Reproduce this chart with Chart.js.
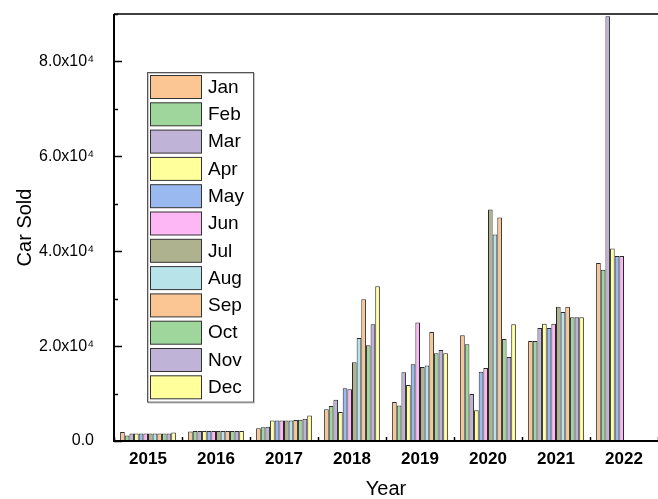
<!DOCTYPE html>
<html>
<head>
<meta charset="utf-8">
<script src="https://cdn.jsdelivr.net/npm/chart.js@4.4.1/dist/chart.umd.min.js"></script>
<style>
    html, body { margin: 0; padding: 0; background: #fff; }
    #wrap { width: 658px; height: 499px; }
</style>
</head>
<body>
<div id="wrap"><canvas id="carChart" width="658" height="499"></canvas></div>
<script>
// Categories and series
const years = ['2015', '2016', '2017', '2018', '2019', '2020', '2021', '2022'];
const months = ['Jan', 'Feb', 'Mar', 'Apr', 'May', 'Jun', 'Jul', 'Aug', 'Sep', 'Oct', 'Nov', 'Dec'];

const jan = [1900, 2000, 2700, 6700, 8200, 22300, 21100, 37500];
const feb = [1150, 2100, 2900, 7400, 7500, 20400, 21100, 36100];
const mar = [1600, 2100, 3000, 8700, 14500, 9900, 23800, 89500];
const apr = [1600, 2100, 4300, 6100, 11800, 6500, 24700, 40600];
const may = [1600, 2100, 4300, 11100, 16200, 14600, 23800, 39000];
const jun = [1600, 2100, 4300, 10900, 25000, 15400, 24700, 39000];
const jul = [1600, 2100, 4300, 16600, 15600, 48800, 28300, null];
const aug = [1600, 2100, 4300, 21700, 15900, 43500, 27200, null];
const sep = [1600, 2100, 4400, 29900, 23000, 47100, 28300, null];
const oct = [1600, 2100, 4500, 20200, 18500, 21500, 26100, null];
const nov = [1600, 2100, 4700, 24600, 19200, 17700, 26100, null];
const dec = [1800, 2100, 5400, 32600, 18500, 24600, 26100, null];

const yTickValues = [0, 20000, 40000, 60000, 80000];

const series = [jan, feb, mar, apr, may, jun, jul, aug, sep, oct, nov, dec];
const colors = ['#FBC594', '#9ED69C', '#BFB3D8', '#FFFF9C', '#9BB9F1', '#FDB7F5',
                '#AEB28F', '#B7E3E9', '#FBC594', '#9ED69C', '#BFB3D8', '#FFFF9C'];

const FONT = "'Liberation Sans', Arial, sans-serif";

// Format 20000 -> "2.0x10⁴"
function sciLabel(v) {
    if (v === 0) return '0.0';
    return (v / 10000).toFixed(1) + 'x10\u2074';
}

// Frame lines, inward tick marks and the boxed legend inside the plot
const framePlugin = {
    id: 'frame',
    afterDraw(chart) {
        const ctx = chart.ctx;
        const area = chart.chartArea;
        const xs = chart.scales.x;
        const ys = chart.scales.y;
        ctx.save();
        ctx.strokeStyle = '#000';

        // top line
        ctx.lineWidth = 1.5;
        ctx.beginPath();
        ctx.moveTo(area.left, area.top);
        ctx.lineTo(area.right, area.top);
        ctx.stroke();

        // axes
        ctx.lineWidth = 2;
        ctx.beginPath();
        ctx.moveTo(area.left, area.top);
        ctx.lineTo(area.left, area.bottom);
        ctx.lineTo(area.right, area.bottom);
        ctx.stroke();

        // y ticks, major and minor, pointing in
        ctx.lineWidth = 1.5;
        ys.ticks.forEach(t => {
            const y = Math.round(ys.getPixelForValue(t.value)) + 0.5;
            const len = yTickValues.includes(t.value) ? 8 : 4;
            ctx.beginPath();
            ctx.moveTo(area.left, y);
            ctx.lineTo(area.left + len, y);
            ctx.stroke();
        });

        // x ticks at category boundaries
        for (let i = 0; i <= years.length; i++) {
            const x = Math.round(xs.getPixelForValue(i - 0.5)) + 0.5;
            ctx.beginPath();
            ctx.moveTo(x, area.bottom);
            ctx.lineTo(x, area.bottom - 4);
            ctx.stroke();
        }

        // legend
        const lx = area.left + 33, ly = area.top + 58;
        const pitch = 27.3;
        const w = 106, h = months.length * pitch + 2;
        ctx.fillStyle = '#fff';
        ctx.fillRect(lx, ly, w, h);
        ctx.lineWidth = 1;
        ctx.strokeStyle = '#c8c8c8';
        ctx.strokeRect(lx + 1.5, ly + 1.5, w, h);
        ctx.strokeStyle = '#555';
        ctx.strokeRect(lx + 0.5, ly + 0.5, w, h);

        ctx.font = '19px ' + FONT;
        ctx.textBaseline = 'middle';
        chart.data.datasets.forEach((ds, i) => {
            const sy = ly + 3.5 + i * pitch;
            ctx.fillStyle = ds.backgroundColor;
            ctx.fillRect(lx + 3.5, sy, 51, 23);
            ctx.strokeStyle = '#333';
            ctx.strokeRect(lx + 3.5, sy, 51, 23);
            ctx.fillStyle = '#000';
            ctx.fillText(ds.label, lx + 61, sy + 12);
        });
        ctx.restore();
    }
};

const datasets = series.map((data, i) => ({
    label: months[i],
    data: data,
    backgroundColor: colors[i],
    borderColor: '#2a2a2a',
    borderWidth: 1
}));

new Chart(document.getElementById('carChart'), {
    type: 'bar',
    data: { labels: years, datasets: datasets },
    options: {
        responsive: false,
        animation: false,
        layout: { padding: { top: 14, right: 0, left: 0, bottom: 0 } },
        datasets: {
            bar: { categoryPercentage: 0.82, barPercentage: 1.0 }
        },
        plugins: {
            legend: { display: false },
            tooltip: { enabled: false }
        },
        scales: {
            x: {
                grid: { display: false, drawTicks: false },
                border: { display: false },
                ticks: {
                    color: '#000',
                    padding: 8,
                    font: { family: FONT, size: 17, weight: 'bold' }
                },
                title: {
                    display: true,
                    text: 'Year',
                    color: '#000',
                    padding: { top: 0, bottom: 0 },
                    font: { family: FONT, size: 20, lineHeight: 1 }
                },
                afterFit(scale) {
                    scale.height = 58;
                    scale.paddingLeft = 0;
                    scale.paddingRight = 0;
                }
            },
            y: {
                min: 0,
                max: 90000,
                grid: { display: false, drawTicks: false },
                border: { display: false },
                ticks: {
                    stepSize: 10000,
                    autoSkip: false,
                    color: '#000',
                    padding: 20,
                    font: { family: FONT, size: 16 },
                    callback: v => yTickValues.includes(v) ? sciLabel(v) : ''
                },
                title: {
                    display: true,
                    text: 'Car Sold',
                    color: '#000',
                    padding: { top: 13, bottom: 0 },
                    font: { family: FONT, size: 20 }
                },
                afterFit(scale) {
                    scale.width = 114;
                    scale.paddingTop = 0;
                    scale.paddingBottom = 0;
                }
            }
        }
    },
    plugins: [framePlugin]
});
</script>
</body>
</html>
